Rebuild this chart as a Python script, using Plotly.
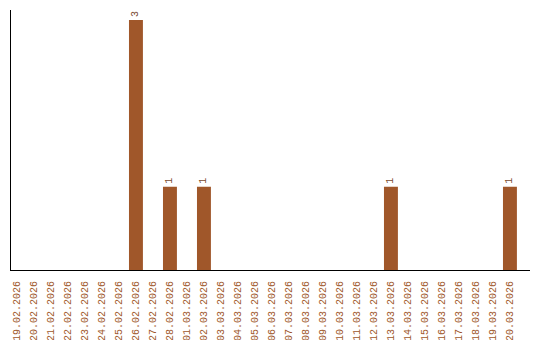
import plotly.graph_objects as go

dates = ["19.02.2026", "20.02.2026", "21.02.2026", "22.02.2026", "23.02.2026",
         "24.02.2026", "25.02.2026", "26.02.2026", "27.02.2026", "28.02.2026",
         "01.03.2026", "02.03.2026", "03.03.2026", "04.03.2026", "05.03.2026",
         "06.03.2026", "07.03.2026", "08.03.2026", "09.03.2026", "10.03.2026",
         "11.03.2026", "12.03.2026", "13.03.2026", "14.03.2026", "15.03.2026",
         "16.03.2026", "17.03.2026", "18.03.2026", "19.03.2026", "20.03.2026"]
counts = [0, 0, 0, 0, 0, 0, 0, 3, 0, 1,
          0, 1, 0, 0, 0, 0, 0, 0, 0, 0,
          0, 0, 1, 0, 0, 0, 0, 0, 0, 1]

labels = [str(v) if v > 0 else "" for v in counts]

fig = go.Figure(go.Bar(
    x=dates, y=counts, text=labels, textposition="outside", textangle=-90,
    cliponaxis=False,
    textfont=dict(family="Liberation Mono", size=10, color="#7a4a30"),
    marker=dict(color="#A0572A", line=dict(width=0)),
    width=0.82,
))

fig.update_layout(
    width=540, height=340,
    margin=dict(l=11, r=10, t=10, b=70, autoexpand=False),
    paper_bgcolor="white", plot_bgcolor="white",
    showlegend=False,
    xaxis=dict(type="category", range=[-0.35, 30.18], showgrid=False,
               automargin=False,
               showline=True, linecolor="black", linewidth=1,
               tickangle=-90, ticks="", ticklabelstandoff=6,
               tickfont=dict(family="Liberation Mono", size=10, color="#A0572A")),
    yaxis=dict(range=[0, 3.12], showgrid=False, zeroline=False,
               automargin=False,
               showline=True, linecolor="black", linewidth=1,
               showticklabels=False, ticks=""),
)

fig.write_html("out.html")
